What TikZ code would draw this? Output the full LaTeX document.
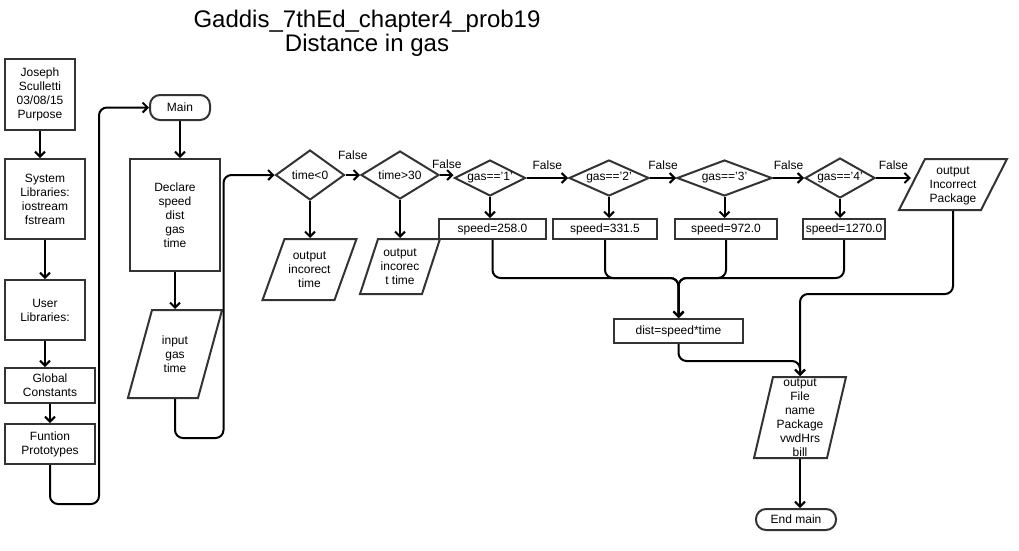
\documentclass[tikz,border=0pt]{standalone}
\usepackage{fontspec}
\setmainfont{Liberation Sans}
\usetikzlibrary{shapes.geometric, arrows.meta, positioning, calc}
\definecolor{boxgray}{HTML}{333333}
% text for the slanted boxes, kept out of the shape size
\newcommand{\iotext}[1]{\makebox[0pt]{\raisebox{-4.5pt}[0pt][0pt]{\begin{tabular}{@{}c@{}}#1\end{tabular}}}}

\begin{document}
\begin{tikzpicture}[
  x=1pt, y=-1pt,
  every node/.style={font=\fontsize{12}{14}\selectfont},
  process/.style={rectangle, draw=boxgray, line width=2pt, inner sep=0pt, align=center},
  terminal/.style={rectangle, draw=boxgray, line width=2pt, rounded corners=10pt, inner sep=1pt, align=center},
  decision/.style={diamond, draw=boxgray, line width=2pt, aspect=2, inner sep=0pt, align=center},
  io/.style={trapezium, draw=boxgray, line width=2pt, minimum width=0pt, minimum height=0pt},
  lbl/.style={inner sep=0pt},
  flow/.style={-{Straight Barb[length=5pt, width=10pt]}, line width=2pt, rounded corners=8pt}
]
  \useasboundingbox (0,0) rectangle (1019,550);

  % Title
  \node[font=\fontsize{24}{24.5}\selectfont, align=center] (title) at (367,33.5) {Gaddis\_7thEd\_chapter4\_prob19\\Distance in gas};

  % Header boxes
  \node[process, minimum width=70, minimum height=71] (joseph) at (40,94.5) {Joseph\\Sculletti\\03/08/15\\Purpose};
  \node[process, minimum width=80, minimum height=80] (syslib) at (45,199) {System\\Libraries:\\iostream\\fstream};
  \node[process, minimum width=80, minimum height=60] (userlib) at (45,310) {User\\Libraries:};
  \node[process, minimum width=90, minimum height=35] (globals) at (50,385.5) {Global\\Constants};
  \node[process, minimum width=90, minimum height=40] (fproto) at (50,444) {Funtion\\Prototypes};

  % Main
  \node[terminal, minimum width=60, minimum height=25] (main) at (180,107.5) {Main};
  \node[process, minimum width=90, minimum height=112] (declare) at (175,215) {Declare\\speed\\dist\\gas\\time};
  \node[io, trapezium left angle=74.7, trapezium right angle=105.3, inner xsep=23, inner ysep=44] (input) at (175,354) {\iotext{input\\gas\\time}};

  % Checks
  \node[decision, minimum width=69, minimum height=50] (t0) at (310,175) {time<0};
  \node[decision, minimum width=78, minimum height=48] (t30) at (400,175) {time>30};
  \node[io, trapezium left angle=70.2, trapezium right angle=109.8, inner xsep=25, inner ysep=30.5] (out1) at (309.5,269.5) {\iotext{output\\incorect\\time}};
  \node[io, trapezium left angle=71.9, trapezium right angle=108.1, inner xsep=22, inner ysep=27.5] (out2) at (400,266.5) {\iotext{output\\incorec\\t time}};

  \node[decision, minimum width=71, minimum height=36] (g1) at (490,178) {gas=='1'};
  \node[decision, minimum width=80, minimum height=36] (g2) at (609,178) {gas=='2'};
  \node[decision, minimum width=95, minimum height=36] (g3) at (724.5,178) {gas=='3'};
  \node[decision, minimum width=70, minimum height=40] (g4) at (840,178) {gas=='4'};
  \node[io, trapezium left angle=63, trapezium right angle=117, inner xsep=28, inner ysep=25.5] (outpkg) at (953,184.5) {\iotext{output\\Incorrect\\Package}};

  \node[process, minimum width=107, minimum height=20] (s1) at (492.5,229) {speed=258.0};
  \node[process, minimum width=104, minimum height=20] (s2) at (605,229) {speed=331.5};
  \node[process, minimum width=102, minimum height=20] (s3) at (726,229) {speed=972.0};
  \node[process, minimum width=82, minimum height=20] (s4) at (844,229) {speed=1270.0};

  \node[process, minimum width=129, minimum height=24] (dist) at (678.5,331) {dist=speed*time};
  \node[io, trapezium left angle=76.8, trapezium right angle=103.2, inner xsep=27, inner ysep=40.5] (outfile) at (800,417.5) {\iotext{output\\File\\name\\Package\\vwdHrs\\bill}};
  \node[terminal, minimum width=80, minimum height=21] (endm) at (796,519.5) {End main};

  % Arrows
  \draw[flow] (joseph.south) -- (joseph.south |- syslib.north);
  \draw[flow] (syslib.south) -- (userlib.north);
  \draw[flow] (userlib.south) -- (userlib.south |- globals.north);
  \draw[flow] (globals.south) -- (fproto.north);
  \draw[flow] (fproto.south) -- ++(0,39) -| ($(main.west)+(-50,0)$) -- (main.west);

  \draw[flow] (main.south) -- (main.south |- declare.north);
  \draw[flow] (declare.south) -- (input.north);
  \draw[flow] (input.south) -- ++(0,39) -| ($(t0.west)+(-51,0)$) -- (t0.west);

  \draw[flow] (t0.east) -- node[lbl, above=14pt] {False} (t30.west);
  \draw[flow] (t0.south) -- (t0.south |- out1.north);
  \draw[flow] (t30.east) -- node[lbl, above=5pt] {False} (t30.east -| g1.west);
  \draw[flow] (t30.south) -- (t30.south |- out2.north);

  \draw[flow] (g1.east) -- node[lbl, above=7pt] {False} (g2.west);
  \draw[flow] (g2.east) -- node[lbl, above=7pt] {False} (g3.west);
  \draw[flow] (g3.east) -- node[lbl, above=7pt] {False} (g4.west);
  \draw[flow] (g4.east) -- node[lbl, above=7pt] {False} (g4.east -| outpkg.west);

  \draw[flow] (g1.south) -- (g1.south |- s1.north);
  \draw[flow] (g2.south) -- (g2.south |- s2.north);
  \draw[flow] (g3.south) -- (g3.south |- s3.north);
  \draw[flow] (g4.south) -- (g4.south |- s4.north);

  \draw[flow] (s1.south) |- ($(dist.north)+(0,-40)$) -- (dist.north);
  \draw[flow] (s2.south) |- ($(dist.north)+(0,-40)$) -- (dist.north);
  \draw[flow] (s3.south) |- ($(dist.north)+(0,-40)$) -- (dist.north);
  \draw[flow] (s4.south) |- ($(dist.north)+(0,-40)$) -- (dist.north);

  \draw[flow] (dist.south) -- ++(0,17) -| (outfile.north);
  \draw[flow] (outpkg.south) -- ++(0,83) -| (outfile.north);
  \draw[flow] (outfile.south) -- (outfile.south |- endm.north);
\end{tikzpicture}
\end{document}
